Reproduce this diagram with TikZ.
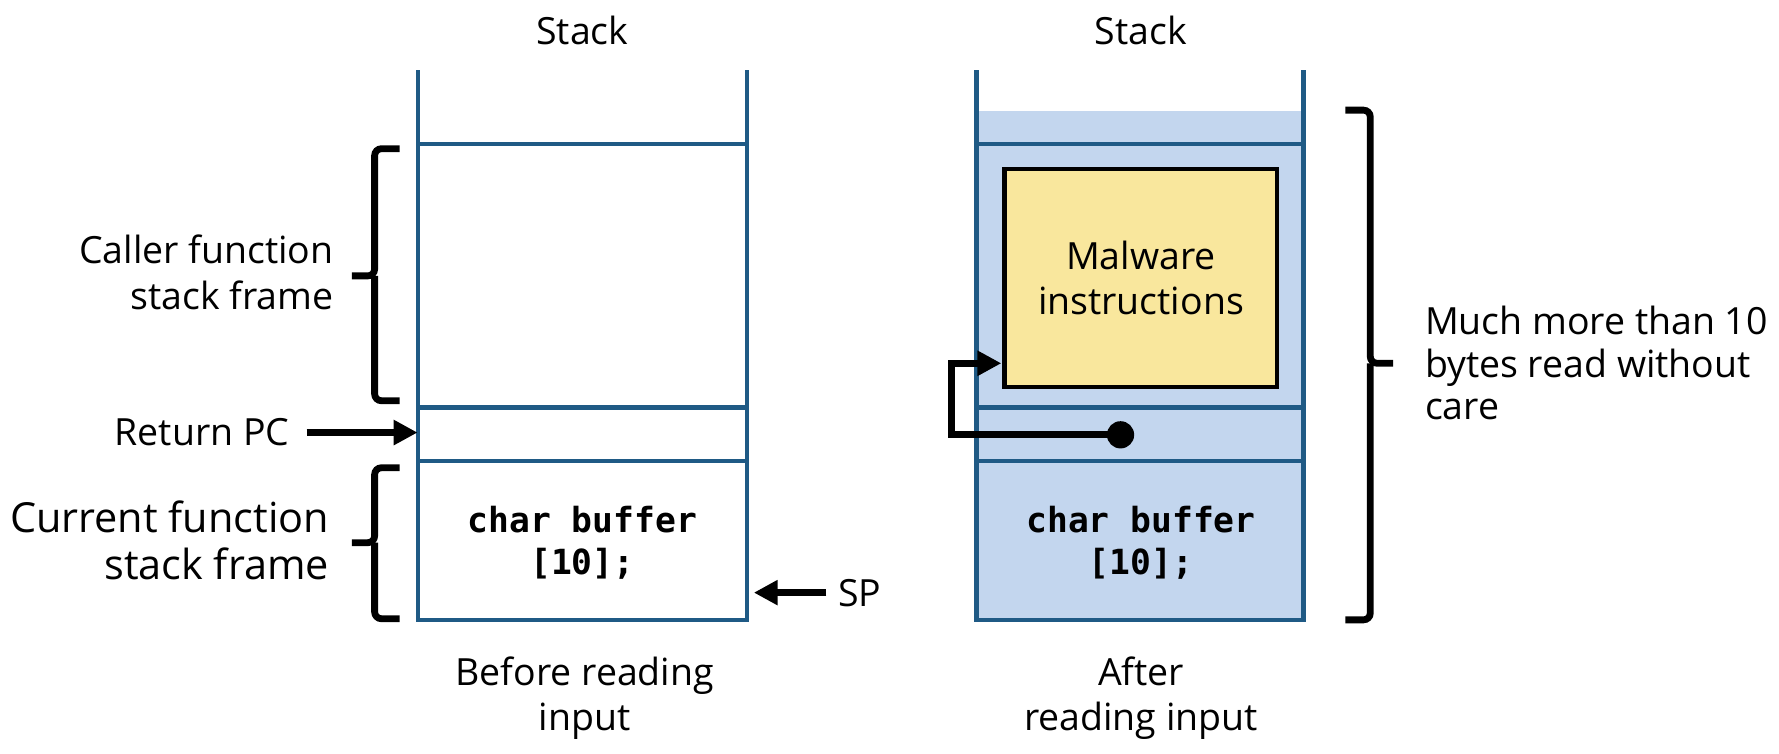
\documentclass[tikz,border=0pt]{standalone}
\usepackage{fontspec}
\setmainfont{Open Sans}
\setmonofont{DejaVu Sans Mono}
\usetikzlibrary{arrows.meta}
\definecolor{stackline}{HTML}{1F5A85}
\definecolor{stackfill}{HTML}{C3D6EE}
\definecolor{malfill}{HTML}{F9E79D}
\tikzset{
  wall/.style={draw=stackline, line width=4pt},
  brace/.style={line width=6pt, rounded corners=6pt},
  arr/.style={-{Triangle[length=21pt,width=21pt]}, line width=6pt},
  txt/.style={align=center, inner sep=0pt, font=\fontsize{33}{40}\selectfont},
  code/.style={align=center, inner sep=0pt, font=\fontsize{30.5}{37}\selectfont\ttfamily\bfseries},
}
\begin{document}
\begin{tikzpicture}[x=1pt, y=-1pt]
    \useasboundingbox (0,0) rectangle (1567,664);
    \fill [stackfill] (860,98) rectangle (1148,546);
    \node [txt] (1) at (513,27) {Stack};
    \node [txt] (2) at (1005,27) {Stack};
    \draw [wall] (368,62) -- (368,546) -- (658,546) -- (658,62);
    \draw [wall] (860,62) -- (860,546) -- (1148,546) -- (1148,62);
    \foreach \y in {127,359,406} {
      \draw [wall] (368,\y) -- (658,\y);
      \draw [wall] (860,\y) -- (1148,\y);
    }
    \node [minimum width=290pt, minimum height=47pt, inner sep=0pt] (3) at (513,382.5) {};
    \node [code] (4) at (513,478) {char buffer\\{}[10];};
    \node [code] (5) at (1005,478) {char buffer\\{}[10];};
    \node [txt, draw, fill=malfill, line width=4pt, minimum width=240pt, minimum height=192pt] (6) at (1005,245) {Malware\\instructions};
    \node [circle, fill, inner sep=0pt, minimum size=24pt] (7) at (987,383) {};
    \coordinate (8) at (882,320);
    \node [txt, align=right, anchor=east] (11) at (294,240) {Caller function\\stack frame};
    \node [txt, align=right, anchor=east, font=\fontsize{36.5}{42}\selectfont] (12) at (290,476) {Current function\\stack frame};
    \node [txt, anchor=east] (13) at (255,381) {Return PC};
    \node [txt, anchor=west] (14) at (738,522) {SP};
    \coordinate (15) at (664,522);
    \node [txt, align=left, anchor=west, font=\fontsize{33}{37.5}\selectfont] (16) at (1255,320) {Much more than 10\\bytes read without\\care};
    \node [txt] (17) at (515,615) {Before reading\\input};
    \node [txt] (18) at (1005,615) {After\\reading input};
    \draw [arr] (13.east) ++(15,0) to (13 -| 3.west);
    \draw [arr] (14.west) ++(-10,0) to (15);
    \draw [arr] (7.center) -- (838,383) -- (838,320) -- (8);
    \draw [brace] (352,131) -- (330,131) -- (330,243) -- (310,243);
    \draw [brace] (330,243) -- (330,353) -- (352,353);
    \draw [brace] (352,412) -- (330,412) -- (330,478) -- (310,478);
    \draw [brace] (330,478) -- (330,545) -- (352,545);
    \draw [brace] (1185,97) -- (1207,97) -- (1207,320) -- (1227,320);
    \draw [brace] (1207,320) -- (1207,546) -- (1185,546);
\end{tikzpicture}
\end{document}
